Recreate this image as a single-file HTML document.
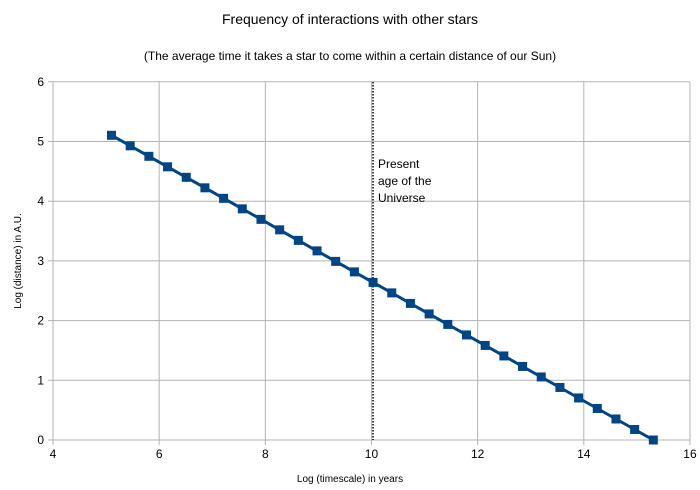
<!DOCTYPE html>
<html><head><meta charset="utf-8"><style>
body{margin:0;background:#fff}
svg{display:block;font-family:"Liberation Sans",sans-serif}
</style></head><body>
<svg id="s" width="700" height="490" xmlns="http://www.w3.org/2000/svg">
<rect width="700" height="490" fill="#fff"/>
<text x="350" y="24" font-size="14" text-anchor="middle" fill="#000">Frequency of interactions with other stars</text>
<text x="350" y="60" font-size="12" text-anchor="middle" fill="#000">(The average time it takes a star to come within a certain distance of our Sun)</text>
<g id="grid" stroke="#b3b3b3" stroke-width="1"></g>
<g id="lab" font-size="12" fill="#000"></g>
<text x="350" y="482" font-size="10" text-anchor="middle">Log (timescale) in years</text>
<text transform="translate(21,261) rotate(-90)" font-size="10" text-anchor="middle">Log (distance) in A.U.</text>
<line x1="373" y1="82" x2="373" y2="440" stroke="#000" stroke-width="1.5" stroke-dasharray="1.5,1.5"/>
<text font-size="12" fill="#000"><tspan x="378" y="168">Present</tspan><tspan x="378" y="185">age of the</tspan><tspan x="378" y="202">Universe</tspan></text>
<polyline id="pl" fill="none" stroke="#004586" stroke-width="3"/>
<g id="pts" fill="#004586"></g>
</svg>
<script>
var ns="http://www.w3.org/2000/svg";
function X(v){return 53+(v-4)*53.08}
function Y(v){return 440-v*59.7}
function el(p,t,a,txt){var e=document.createElementNS(ns,t);for(var k in a)e.setAttribute(k,a[k]);if(txt!==undefined)e.textContent=txt;document.getElementById(p).appendChild(e);}
for(var i=0;i<=6;i++){var y=Y(i);el('grid','line',{x1:48,x2:X(16),y1:y,y2:y});el('lab','text',{x:44,y:y+4,'text-anchor':'end'},i);}
for(var v=4;v<=16;v+=2){var x=X(v);el('grid','line',{x1:x,x2:x,y1:82,y2:445});el('lab','text',{x:x,y:458,'text-anchor':'middle'},v);}
var pts=[];
for(var k=-14;k<=15;k++){var xv=10.03+0.352*k;var yv=Math.max(0,0.5*(15.31-xv));var px=X(xv),py=Y(yv);pts.push(px.toFixed(1)+','+py.toFixed(1));el('pts','rect',{x:px-4.5,y:py-4.5,width:9,height:9});}
document.getElementById('pl').setAttribute('points',pts.join(' '));
</script>
</body></html>
